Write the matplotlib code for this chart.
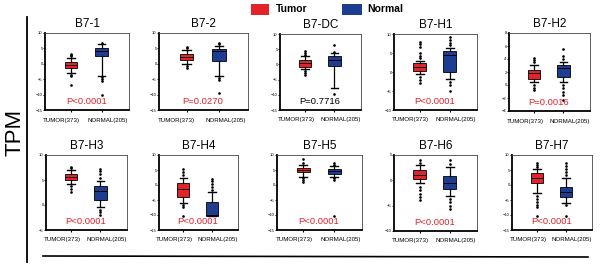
import matplotlib
matplotlib.use('Agg')
import matplotlib.pyplot as plt
from matplotlib.patches import Rectangle
from matplotlib.lines import Line2D

plt.rcParams['font.family'] = ['Liberation Sans Narrow', 'Liberation Sans', 'DejaVu Sans']

genes = ['B7-1', 'B7-2', 'B7-DC', 'B7-H1', 'B7-H2',
         'B7-H3', 'B7-H4', 'B7-H5', 'B7-H6', 'B7-H7']
pvals = ['P<0.0001', 'P=0.0270', 'P=0.7716', 'P<0.0001', 'P=0.0016',
         'P<0.0001', 'P<0.0001', 'P<0.0001', 'P<0.0001', 'P<0.0001']
group_labels = ['TUMOR(373)', 'NORMAL(205)']

# (whislo, q1, median, q3, whishi)
tumor_box = [(-3.0, -1.5, -0.5, 0.5, 2.0),
             (0.0, 1.2, 2.3, 3.2, 4.5),
             (-1.6, -0.7, 0.4, 1.5, 2.6),
             (-0.6, 0.3, 1.2, 2.3, 3.0),
             (0.5, 1.0, 1.8, 2.3, 3.1),
             (4.3, 5.0, 5.6, 6.2, 7.0),
             (-5.9, -3.9, -1.3, 0.8, 2.3),
             (2.8, 4.2, 5.0, 5.8, 6.7),
             (-0.6, 0.2, 1.0, 2.0, 3.0),
             (-2.6, 0.6, 2.2, 3.9, 5.2)]
normal_box = [(-3.8, 2.5, 4.2, 5.2, 6.3),
              (-3.9, 0.9, 4.3, 4.8, 5.9),
              (-7.8, -0.6, 1.5, 2.9, 3.7),
              (-1.9, 0.1, 4.5, 5.6, 6.4),
              (0.5, 1.3, 2.6, 3.05, 3.6),
              (-0.3, 1.0, 2.9, 3.9, 4.9),
              (-10.3, -10.3, -10.0, -5.6, -2.2),
              (2.8, 3.6, 4.6, 5.3, 6.2),
              (-3.1, -1.8, -0.6, 0.9, 2.7),
              (-5.9, -4.1, -2.2, -0.8, 2.2)]
tumor_fliers = [[2.5, 3.0, 3.3, -3.5, -4.0, -6.8],
                [5.0, 5.3, -0.8, -1.5],
                [3.2, 3.8, 4.3, -2.3, -2.9, -3.4],
                [3.6, 4.3, 5.0, 6.5, 7.3, 8.0, -1.4, -2.2, -3.0],
                [3.5, 3.8, 4.1, 0.0, -0.4, -0.8],
                [7.4, 7.7, 3.8, 3.3, 2.7],
                [3.3, 4.2, 5.2, -6.6, -7.3, -10.3],
                [7.2, 8.6, 2.2, 1.6, 1.1],
                [3.5, 4.0, -1.3, -2.0, -2.7, -3.3, -3.9],
                [6.0, 6.6, 7.2, -3.5, -4.5, -5.5, -6.5, -7.2, -10.3]]
normal_fliers = [[6.6, -4.3, -4.8, -5.5, -10.2],
                 [6.3, 6.7, -4.5, -5.3, -9.5],
                 [4.2, 6.5, -9.7],
                 [7.0, 7.7, 8.4, 9.1, -2.6, -3.3, -5.0],
                 [4.0, 4.4, 5.6, 0.0, -0.5, -1.0, -1.5, -2.3],
                 [5.5, 6.2, 6.8, 7.3, -0.9, -1.4, -2.0],
                 [-1.5, -0.5, 0.5, 1.2, 1.9],
                 [6.7, 7.2, 2.2, 1.7, -10.3],
                 [3.3, 4.0, -3.7, -4.3, -5.0, -5.7],
                 [3.3, 4.5, 5.5, 6.3, 7.2, -6.5, -10.3]]
yticks = [[-15, -10, -5, 0, 5, 10], [-15, -10, -5, 0, 5, 10], [-15, -10, -5, 0, 5, 10],
          [-10, -5, 0, 5, 10], [-4, -2, 0, 2, 4, 6, 8],
          [-5, 0, 5, 10], [-15, -10, -5, 0, 5, 10], [-15, -10, -5, 0, 5, 10],
          [-10, -5, 0, 5], [-15, -10, -5, 0, 5, 10]]

tumor_color = '#e3222a'
normal_color = '#1d3d91'

W, H = 600, 264
fig = plt.figure(figsize=(6, 2.64), dpi=100)

# panel boxes in pixels: left, top, right, bottom
rects = [(45, 33, 129, 110), (159, 33, 248, 110), (280, 34, 361, 110),
         (394, 34, 477, 110), (509, 33, 590, 111),
         (46, 155, 127, 230), (159, 155, 238, 230), (277, 155, 362, 230),
         (394, 155, 477, 231), (512, 155, 592, 230)]


def stats(b, fl):
    return dict(whislo=b[0], q1=b[1], med=b[2], q3=b[3], whishi=b[4], fliers=fl)


for i, g in enumerate(genes):
    l, t, r, b = rects[i]
    ax = fig.add_axes([l / W, 1 - b / H, (r - l) / W, (b - t) / H])
    bs = [stats(tumor_box[i], tumor_fliers[i]), stats(normal_box[i], normal_fliers[i])]
    res = ax.bxp(bs, positions=[1, 2], widths=0.42, patch_artist=True,
                 capwidths=0.26,
                 boxprops=dict(linewidth=0.6, edgecolor='black'),
                 whiskerprops=dict(linewidth=0.9, color='black'),
                 capprops=dict(linewidth=1.0, color='black'),
                 medianprops=dict(linewidth=0.7, color='black'),
                 flierprops=dict(marker='o', markersize=0.9, markerfacecolor='black',
                                 markeredgecolor='black', linestyle='none'))
    res['boxes'][0].set_facecolor(tumor_color)
    res['boxes'][1].set_facecolor(normal_color)
    ax.set_xlim(0.15, 2.9)
    ax.set_ylim(yticks[i][0], yticks[i][-1])
    ax.set_yticks(yticks[i])
    ax.tick_params(axis='y', labelsize=3, length=1.2, width=0.6, pad=0.5)
    ax.set_xticks([1, 2])
    ax.set_xticklabels([])
    ax.tick_params(axis='x', length=1.5, width=0.8)
    for s in ['left', 'bottom']:
        ax.spines[s].set_linewidth(1.3)
    for s in ['top', 'right']:
        ax.spines[s].set_linewidth(0.6)
        ax.spines[s].set_color('#444444')
    ax.set_title(g, fontsize=8.5, pad=4)
    ax.text(0.2, -0.13, group_labels[0], transform=ax.transAxes, fontsize=4.4,
            ha='center', va='center')
    ax.text(0.75, -0.13, group_labels[1], transform=ax.transAxes, fontsize=4.4,
            ha='center', va='center')
    pc = 'black' if pvals[i] == 'P=0.7716' else '#e3222a'
    ax.text(0.49, 0.11, pvals[i], transform=ax.transAxes, fontsize=6.8,
            color=pc, ha='center', va='center')

# legend
fig.patches.append(Rectangle((251 / W, 1 - 15 / H), 18 / W, 11 / H,
                             transform=fig.transFigure, facecolor=tumor_color,
                             edgecolor='none'))
fig.text(276 / W, 1 - 9.5 / H, 'Tumor', fontsize=7.5, fontweight='bold',
         family=['Liberation Sans', 'DejaVu Sans'], va='center')
fig.patches.append(Rectangle((342 / W, 1 - 15 / H), 20 / W, 11 / H,
                             transform=fig.transFigure, facecolor=normal_color,
                             edgecolor='none'))
fig.text(367 / W, 1 - 9.5 / H, 'Normal', fontsize=7.5, fontweight='bold',
         family=['Liberation Sans', 'DejaVu Sans'], va='center')

# y label and frame lines
fig.text(15 / W, 1 - 132 / H, 'TPM', fontsize=16, rotation=90,
         family=['Liberation Sans', 'DejaVu Sans'], ha='center', va='center')
fig.lines.append(Line2D([27 / W, 27 / W], [1 - 17 / H, 1 - 262 / H],
                        transform=fig.transFigure, color='black', linewidth=1.3))
fig.lines.append(Line2D([43 / W, 588 / W], [1 - 256 / H, 1 - 257 / H],
                        transform=fig.transFigure, color='black', linewidth=1.2))

fig.savefig('out.png', dpi=100)
